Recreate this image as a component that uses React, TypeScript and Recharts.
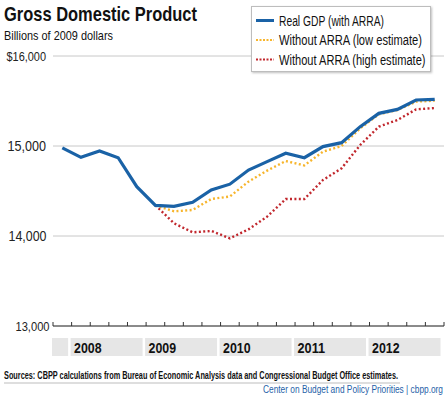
import React from 'react';
import { LineChart, Line, XAxis, YAxis, CartesianGrid, Legend } from 'recharts';

const quarters = ['2007Q4','2008Q1','2008Q2','2008Q3','2008Q4','2009Q1','2009Q2','2009Q3','2009Q4','2010Q1','2010Q2','2010Q3','2010Q4','2011Q1','2011Q2','2011Q3','2011Q4','2012Q1','2012Q2','2012Q3','2012Q4'];
const realGDP = [14980, 14874, 14944, 14870, 14548, 14341, 14330, 14374, 14511, 14576, 14733, 14826, 14919, 14870, 14993, 15037, 15215, 15363, 15407, 15511, 15519];
const lowEstimate = [null, null, null, null, null, 14341, 14274, 14289, 14411, 14439, 14604, 14726, 14833, 14785, 14937, 15000, 15196, 15352, 15400, 15493, 15504];
const highEstimate = [null, null, null, null, null, 14341, 14141, 14041, 14056, 13974, 14074, 14215, 14411, 14411, 14622, 14752, 15011, 15215, 15289, 15407, 15422];

const yTicks = [13000, 14000, 15000, 16000];
const yearLabels = ['', '2008', '2009', '2010', '2011', '2012'];
const yearSpans = [1, 4, 4, 4, 4, 4];

const seriesNames = ['Real GDP (with ARRA)', 'Without ARRA (low estimate)', 'Without ARRA (high estimate)'];
const seriesColors = ['#1a62a6', '#f7b52c', '#c1272d'];

const titleText = 'Gross Domestic Product';
const subtitleText = 'Billions of 2009 dollars';
const sourceText = 'Sources: CBPP calculations from Bureau of Economic Analysis data and Congressional Budget Office estimates.';
const creditText = 'Center on Budget and Policy Priorities | cbpp.org';

const data = quarters.map((q, i) => ({
  i,
  q,
  real: realGDP[i],
  low: lowEstimate[i],
  high: highEstimate[i],
}));

const yearCenters: number[] = [];
{
  let start = -0.5;
  yearSpans.forEach((s) => {
    yearCenters.push(start + s / 2);
    start += s;
  });
}
const boundaryTicks = Array.from({ length: quarters.length + 1 }, (_, k) => k - 0.5);

const FONT = "'Liberation Sans', Arial, sans-serif";
const W = 448;
const H = 396;
const PLOT_LEFT = 53;
const PLOT_RIGHT = 4;
const UNIT = (W - PLOT_LEFT - PLOT_RIGHT) / quarters.length;

// label widths to mimic the condensed face of the original
const yLabelStyle: Record<number, { w: number; right: number; size: number }> = {
  13000: { w: 34, right: 49.5, size: 13.5 },
  14000: { w: 38, right: 46.5, size: 14 },
  15000: { w: 38.5, right: 46, size: 14 },
  16000: { w: 39.5, right: 46, size: 13.5 },
};
const legendTextW = [105, 143, 146.5];

const QuarterTick = (props: any) => {
  const { x, y } = props;
  return <line x1={x} x2={x} y1={y} y2={y - 4} stroke="#333" strokeWidth={1} />;
};

const YearTick = (props: any) => {
  const { x, y, index } = props;
  const span = yearSpans[index];
  const left = x - (span * UNIT) / 2 - 1;
  const width = span * UNIT - 2.5;
  return (
    <g>
      <rect x={left} y={y} width={width} height={18} fill="#e6e6e6" />
      {yearLabels[index] ? (
        <text
          x={left + 3.5}
          y={y + 14.7}
          fontFamily={FONT}
          fontSize={15}
          fontWeight="bold"
          fill="#111"
          textLength={27.5}
          lengthAdjust="spacingAndGlyphs"
        >
          {yearLabels[index]}
        </text>
      ) : null}
    </g>
  );
};

const YTick = (props: any) => {
  const { y, payload } = props;
  const v = payload.value as number;
  const st = yLabelStyle[v];
  const label = v === 16000 ? '$16,000' : v.toLocaleString('en-US');
  return (
    <text
      x={st.right}
      y={y + 5}
      textAnchor="end"
      fontFamily={FONT}
      fontSize={st.size}
      fill="#222"
      textLength={st.w}
      lengthAdjust="spacingAndGlyphs"
    >
      {label}
    </text>
  );
};

const renderLegend = () => (
  <svg width={182} height={68} style={{ display: 'block', overflow: 'visible' }}>
    <defs>
      <filter id="lgshadow" x="-5%" y="-5%" width="115%" height="120%">
        <feDropShadow dx="1" dy="1" stdDeviation="1" floodColor="#000" floodOpacity="0.25" />
      </filter>
    </defs>
    <rect x={0.5} y={0.5} width={179} height={65} fill="#fff" stroke="#bdbdbd" strokeWidth={1} filter="url(#lgshadow)" />
    {seriesNames.map((n, k) => {
      const cy = 14.5 + k * 19.5;
      return (
        <g key={n}>
          <line
            x1={5}
            x2={23}
            y1={cy}
            y2={cy}
            stroke={seriesColors[k]}
            strokeWidth={k === 0 ? 3 : 2}
            strokeDasharray={k === 0 ? undefined : '2 1.5'}
          />
          <text
            transform={`translate(28,${cy + 5}) scale(1,1.16)`}
            x={0}
            y={0}
            fontFamily={FONT}
            fontSize={12.3}
            fill="#111"
            textLength={legendTextW[k]}
            lengthAdjust="spacingAndGlyphs"
          >
            {n}
          </text>
        </g>
      );
    })}
  </svg>
);

export default function App() {
  return (
    <div style={{ position: 'relative', width: W, height: H, background: '#fff', fontFamily: FONT }}>
      <style>{'body{margin:0;}'}</style>
      <LineChart width={W} height={H} data={data} margin={{ top: 56, right: PLOT_RIGHT, bottom: 38, left: 0 }}>
        <CartesianGrid horizontal vertical={false} stroke="#c8c8c8" xAxisId="q" />
        <XAxis
          xAxisId="q"
          dataKey="i"
          type="number"
          domain={[-0.5, quarters.length - 0.5]}
          ticks={boundaryTicks}
          interval={0}
          tick={<QuarterTick />}
          tickLine={false}
          tickSize={0}
          tickMargin={0}
          axisLine={{ stroke: '#333' }}
          height={12}
        />
        <XAxis
          xAxisId="yr"
          dataKey="i"
          type="number"
          domain={[-0.5, quarters.length - 0.5]}
          ticks={yearCenters}
          interval={0}
          tick={<YearTick />}
          tickLine={false}
          tickSize={0}
          tickMargin={0}
          axisLine={false}
          height={20}
        />
        <YAxis
          domain={[13000, 16000]}
          ticks={yTicks}
          axisLine={false}
          tickLine={false}
          width={PLOT_LEFT}
          tick={<YTick />}
        />
        <Legend
          layout="vertical"
          align="center"
          verticalAlign="middle"
          content={renderLegend}
          wrapperStyle={{ position: 'absolute', top: 6, left: 251, width: 182, height: 68 }}
        />
        <Line xAxisId="q" dataKey="high" name={seriesNames[2]} stroke={seriesColors[2]} strokeWidth={2.4} strokeDasharray="2 2.4" dot={false} isAnimationActive={false} connectNulls={false} />
        <Line xAxisId="q" dataKey="low" name={seriesNames[1]} stroke={seriesColors[1]} strokeWidth={2.4} strokeDasharray="2 2.4" dot={false} isAnimationActive={false} connectNulls={false} />
        <Line xAxisId="q" dataKey="real" name={seriesNames[0]} stroke={seriesColors[0]} strokeWidth={3.2} dot={false} isAnimationActive={false} />
      </LineChart>
      <svg width={W} height={H} style={{ position: 'absolute', left: 0, top: 0, pointerEvents: 'none' }}>
        <text x={4} y={20.5} fontFamily={FONT} fontSize={21} fontWeight="bold" fill="#111" textLength={193} lengthAdjust="spacingAndGlyphs">
          {titleText}
        </text>
        <text x={4} y={39.5} fontFamily={FONT} fontSize={13.5} fill="#111" textLength={109} lengthAdjust="spacingAndGlyphs">
          {subtitleText}
        </text>
        <text
          transform="translate(4,378.5) scale(1,1.3)"
          x={0}
          y={0}
          fontFamily={FONT}
          fontSize={7.8}
          fontWeight="bold"
          fill="#111"
          textLength={394}
          lengthAdjust="spacingAndGlyphs"
        >
          {sourceText}
        </text>
        <line x1={4} x2={400} y1={383} y2={383} stroke="#bdbdbd" strokeWidth={1} />
        <text
          transform="translate(263,392.5) scale(1,1.25)"
          x={0}
          y={0}
          fontFamily={FONT}
          fontSize={8.3}
          fill="#1f5fa8"
          textLength={180}
          lengthAdjust="spacingAndGlyphs"
        >
          {creditText}
        </text>
      </svg>
    </div>
  );
}
